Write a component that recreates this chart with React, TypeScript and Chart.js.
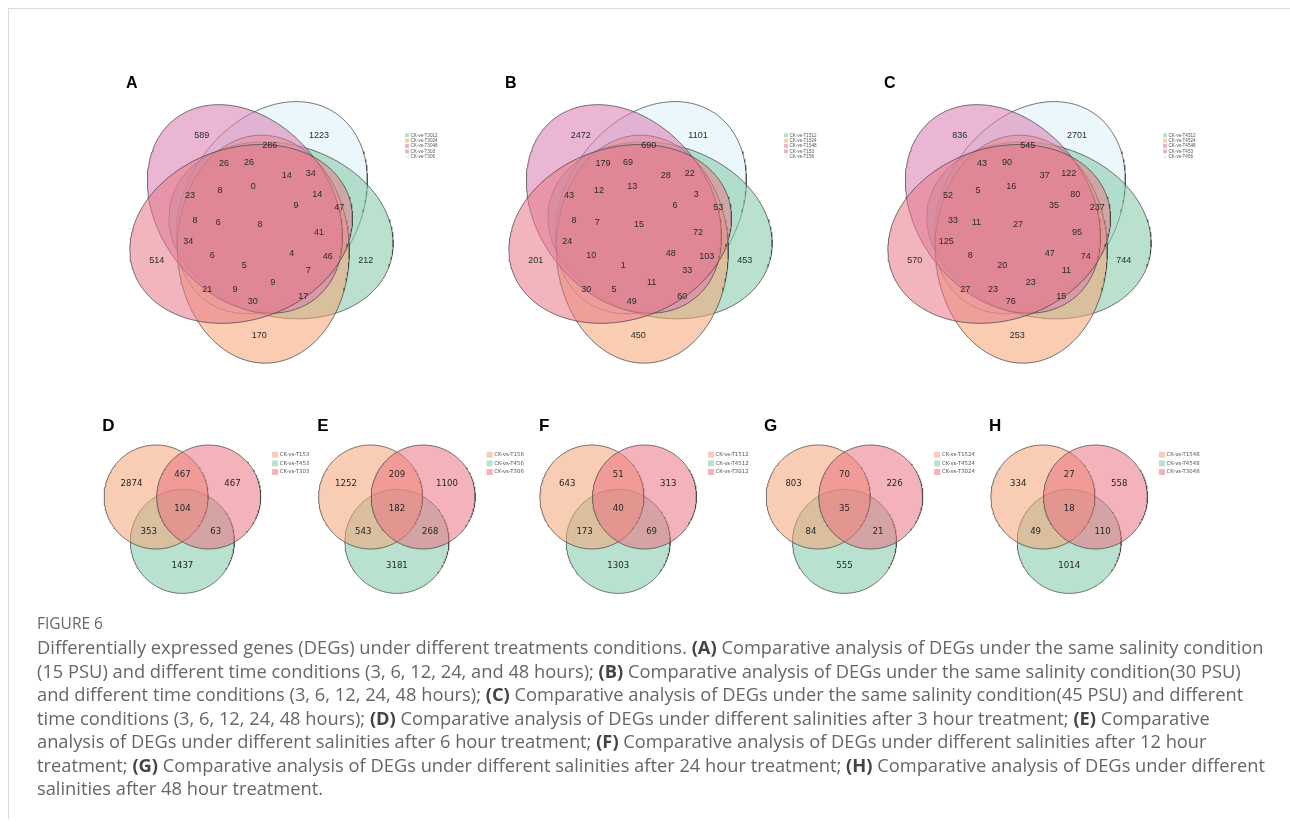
import React, { useEffect, useRef } from 'react';
import { Chart, registerables } from 'chart.js';

Chart.register(...registerables);

const W = 1290;
const H = 827;

// ---- five-set panels (A–C) ----
const SETS_A = ['CK-vs-T3012', 'CK-vs-T3024', 'CK-vs-T3048', 'CK-vs-T303', 'CK-vs-T306'];
const SETS_B = ['CK-vs-T1512', 'CK-vs-T1524', 'CK-vs-T1548', 'CK-vs-T153', 'CK-vs-T156'];
const SETS_C = ['CK-vs-T4512', 'CK-vs-T4524', 'CK-vs-T4548', 'CK-vs-T453', 'CK-vs-T456'];

const COUNTS_A = [589, 1223, 286, 26, 26, 34, 14, 23, 8, 0, 14, 9, 47, 8, 6, 8, 41, 34, 6, 514, 5, 4, 46, 212, 7, 21, 9, 9, 17, 30, 170];
const COUNTS_B = [2472, 1101, 690, 179, 69, 22, 28, 43, 12, 13, 3, 6, 53, 8, 7, 15, 72, 24, 10, 201, 1, 48, 103, 453, 33, 30, 5, 11, 60, 49, 450];
const COUNTS_C = [836, 2701, 545, 43, 90, 122, 37, 52, 5, 16, 80, 35, 237, 33, 11, 27, 95, 125, 8, 570, 20, 47, 74, 744, 11, 27, 23, 23, 15, 76, 253];

// ---- three-set panels (D–H) ----
const SETS_D = ['CK-vs-T153', 'CK-vs-T453', 'CK-vs-T303'];
const SETS_E = ['CK-vs-T156', 'CK-vs-T456', 'CK-vs-T306'];
const SETS_F = ['CK-vs-T1512', 'CK-vs-T4512', 'CK-vs-T3012'];
const SETS_G = ['CK-vs-T1524', 'CK-vs-T4524', 'CK-vs-T3024'];
const SETS_H = ['CK-vs-T1548', 'CK-vs-T4548', 'CK-vs-T3048'];

// region order: first only, first∩third, third only, all three, first∩second, second∩third, second only
const COUNTS_D = [2874, 467, 467, 104, 353, 63, 1437];
const COUNTS_E = [1252, 209, 1100, 182, 543, 268, 3181];
const COUNTS_F = [643, 51, 313, 40, 173, 69, 1303];
const COUNTS_G = [803, 70, 226, 35, 84, 21, 555];
const COUNTS_H = [334, 27, 558, 18, 49, 110, 1014];

// ---- styling / geometry ----
const QUINT_FILLS = ['rgba(128,200,166,0.55)', 'rgba(246,164,115,0.55)', 'rgba(231,120,135,0.55)', 'rgba(217,122,177,0.55)', 'rgba(219,240,248,0.55)'];
const QUINT_SWATCH = ['#b9e0ce', '#f9cbb0', '#f2b6be', '#eab6d4', '#eaf7fb'];
// unit-square ellipse layout for the five-set diagram (centre x, centre y, rotation in degrees)
const QUINT_SHAPES = [
  [0.558, 0.523, 10],
  [0.469, 0.543, 82],
  [0.428, 0.449, 155],
  [0.489, 0.383, 46],
  [0.578, 0.432, 118],
];
const QUINT_BASE_MAJOR = 0.435;
const QUINT_ORIGIN = [0.5044, 0.466];
const QUINT_SCALE = 270;
// each petal keeps its outer end; the ellipse is shorter, fuller and turned slightly about that end
const QUINT_MAJOR_PX = 114;
const QUINT_MINOR_PX = 86;
const QUINT_TURN_DEG = 6;
const QUINT_DRAW_ORDER = [4, 0, 1, 3, 2];

const TRIO_FILLS = ['rgba(244,164,119,0.55)', 'rgba(128,200,168,0.55)', 'rgba(235,114,131,0.55)'];
const TRIO_SWATCH = ['#f9cdb4', '#b9e1cf', '#f4b2bb'];
const TRIO_CENTRES = [[-26.3, -14.8], [0, 29.6], [26.3, -14.8]];
const TRIO_RADIUS = 52;
const TRIO_DRAW_ORDER = [1, 0, 2];

const QUINT_LABEL_POS = [
  [-58.8, -90], [58.5, -90], [9.2, -80], [-36.5, -62.7], [-11.5, -63.3], [50.2, -52.7], [26.2, -50],
  [-70.5, -30.3], [-40.5, -35], [-7.2, -39.3], [56.8, -31.7], [35.5, -20.3], [78.8, -18.3],
  [-65.5, -5], [-42.2, -3.3], [-0.5, -1], [58.5, 6.3], [-72.2, 15.7], [-48.2, 29.7],
  [-103.8, 34.7], [-16.2, 39.7], [31.2, 27.3], [67.2, 30.7], [105.2, 34.7], [47.8, 45],
  [-53.2, 63.3], [-25.5, 63.3], [12.2, 56.7], [42.8, 70.7], [-7.8, 75.7], [-1.2, 110],
];
const TRIO_LABEL_POS = [[-50.9, -27.8], [0, -36.8], [50.1, -27.8], [0, -2.8], [-33.6, 20.2], [33.4, 20.2], [0, 54]];

const QUINT_PANELS = [
  { letter: 'A', cx: 260.5, cy: 226, sets: SETS_A, counts: COUNTS_A },
  { letter: 'B', cx: 639.5, cy: 226, sets: SETS_B, counts: COUNTS_B },
  { letter: 'C', cx: 1018.5, cy: 226, sets: SETS_C, counts: COUNTS_C },
];
const TRIO_PANELS = [
  { letter: 'D', cx: 182.4, cy: 511.8, sets: SETS_D, counts: COUNTS_D },
  { letter: 'E', cx: 396.9, cy: 511.8, sets: SETS_E, counts: COUNTS_E },
  { letter: 'F', cx: 618.2, cy: 511.8, sets: SETS_F, counts: COUNTS_F },
  { letter: 'G', cx: 844.5, cy: 511.8, sets: SETS_G, counts: COUNTS_G },
  { letter: 'H', cx: 1069.2, cy: 511.8, sets: SETS_H, counts: COUNTS_H },
];

const CAPTION_LINES: Array<Array<[string, boolean]>> = [
  [['Differentially expressed genes (DEGs) under different treatments conditions. ', false], ['(A)', true], [' Comparative analysis of DEGs under the same salinity condition', false]],
  [['(15 PSU) and different time conditions (3, 6, 12, 24, and 48 hours); ', false], ['(B)', true], [' Comparative analysis of DEGs under the same salinity condition(30 PSU)', false]],
  [['and different time conditions (3, 6, 12, 24, 48 hours); ', false], ['(C)', true], [' Comparative analysis of DEGs under the same salinity condition(45 PSU) and different', false]],
  [['time conditions (3, 6, 12, 24, 48 hours); ', false], ['(D)', true], [' Comparative analysis of DEGs under different salinities after 3 hour treatment; ', false], ['(E)', true], [' Comparative', false]],
  [['analysis of DEGs under different salinities after 6 hour treatment; ', false], ['(F)', true], [' Comparative analysis of DEGs under different salinities after 12 hour', false]],
  [['treatment; ', false], ['(G)', true], [' Comparative analysis of DEGs under different salinities after 24 hour treatment; ', false], ['(H)', true], [' Comparative analysis of DEGs under different', false]],
  [['salinities after 48 hour treatment.', false]],
];

// Outline of an ellipse in pixel space: centre (cx, cy), semi-axes a (along unit vector d) and b.
function ellipseOutline(cx: number, cy: number, a: number, b: number, dx: number, dy: number) {
  const pts: { x: number; y: number }[] = [];
  const n = 220;
  for (let i = 0; i <= n; i++) {
    const t = (i / n) * Math.PI * 2;
    const u = a * Math.cos(t);
    const v = b * Math.sin(t);
    pts.push({ x: cx + u * dx - v * dy, y: cy + u * dy + v * dx });
  }
  return pts;
}

function quintEllipse(p: { cx: number; cy: number }, k: number) {
  const [ux, uy, rot] = QUINT_SHAPES[k];
  const r = (rot * Math.PI) / 180;
  const cx = p.cx + (ux - QUINT_ORIGIN[0]) * QUINT_SCALE;
  const cy = p.cy + (uy - QUINT_ORIGIN[1]) * QUINT_SCALE;
  const a0 = QUINT_BASE_MAJOR * QUINT_SCALE;
  const e1 = [cx + a0 * Math.cos(r), cy + a0 * Math.sin(r)];
  const e2 = [cx - a0 * Math.cos(r), cy - a0 * Math.sin(r)];
  const s = Math.hypot(e1[0] - p.cx, e1[1] - p.cy) > Math.hypot(e2[0] - p.cx, e2[1] - p.cy) ? 1 : -1;
  const outer = s > 0 ? e1 : e2;
  const r2 = r + (QUINT_TURN_DEG * Math.PI) / 180;
  const dx = Math.cos(r2);
  const dy = Math.sin(r2);
  return ellipseOutline(outer[0] - s * QUINT_MAJOR_PX * dx, outer[1] - s * QUINT_MAJOR_PX * dy, QUINT_MAJOR_PX, QUINT_MINOR_PX, dx, dy);
}

function buildDatasets() {
  const shapes: any[] = [];
  QUINT_PANELS.forEach((p) => {
    QUINT_DRAW_ORDER.forEach((k) => {
      shapes.push({ label: p.sets[k], data: quintEllipse(p, k), backgroundColor: QUINT_FILLS[k] });
    });
  });
  TRIO_PANELS.forEach((p) => {
    TRIO_DRAW_ORDER.forEach((k) => {
      const [ox, oy] = TRIO_CENTRES[k];
      shapes.push({
        label: p.sets[k],
        data: ellipseOutline(p.cx + ox, p.cy + oy, TRIO_RADIUS, TRIO_RADIUS, 1, 0),
        backgroundColor: TRIO_FILLS[k],
      });
    });
  });
  return shapes.map((s, i) => ({
    ...s,
    showLine: true,
    fill: 'shape',
    borderColor: 'rgba(70,70,70,0.75)',
    borderWidth: 1,
    pointRadius: 0,
    pointHoverRadius: 0,
    tension: 0,
    order: -i,
  }));
}

const vennText = {
  id: 'vennText',
  afterDatasetsDraw(chart: any) {
    const { ctx } = chart;
    const sx = chart.scales.x;
    const sy = chart.scales.y;
    const px = (v: number) => sx.getPixelForValue(v);
    const py = (v: number) => sy.getPixelForValue(v);
    ctx.save();
    ctx.textAlign = 'center';
    ctx.textBaseline = 'middle';

    QUINT_PANELS.forEach((p) => {
      ctx.fillStyle = '#2b2b2b';
      ctx.font = '9px "Liberation Sans", Arial, sans-serif';
      p.counts.forEach((c, i) => {
        const [ox, oy] = QUINT_LABEL_POS[i];
        ctx.fillText(String(c), px(p.cx + ox), py(p.cy + oy));
      });
      ctx.fillStyle = '#000';
      ctx.font = 'bold 16px "Liberation Sans", Arial, sans-serif';
      ctx.fillText(p.letter, px(p.cx - 128.8), py(p.cy - 142.7));
      ctx.textAlign = 'left';
      ctx.font = '4.6px "Liberation Sans", Arial, sans-serif';
      p.sets.forEach((s, i) => {
        const lx = px(p.cx + 144.5);
        const ly = py(p.cy - 90.7 + i * 5.35);
        ctx.fillStyle = QUINT_SWATCH[i];
        ctx.fillRect(lx, ly - 2, 4, 4);
        ctx.fillStyle = '#555';
        ctx.fillText(s, lx + 5.5, ly);
      });
      ctx.textAlign = 'center';
    });

    TRIO_PANELS.forEach((p) => {
      ctx.fillStyle = '#262626';
      ctx.font = '8.6px "DejaVu Sans", sans-serif';
      p.counts.forEach((c, i) => {
        const [ox, oy] = TRIO_LABEL_POS[i];
        ctx.fillText(String(c), px(p.cx + ox), py(p.cy + oy));
      });
      ctx.fillStyle = '#000';
      ctx.font = 'bold 17px "Liberation Sans", Arial, sans-serif';
      ctx.fillText(p.letter, px(p.cx - 74), py(426.7));
      ctx.textAlign = 'left';
      ctx.font = '5.4px "DejaVu Sans", sans-serif';
      p.sets.forEach((s, i) => {
        const lx = px(p.cx + 89.7);
        const ly = py(454.7 + i * 8.65);
        ctx.fillStyle = TRIO_SWATCH[i];
        ctx.fillRect(lx, ly - 3, 6, 6);
        ctx.fillStyle = '#555';
        ctx.fillText(s, lx + 7.7, ly);
      });
      ctx.textAlign = 'center';
    });
    ctx.restore();
  },
};

export default function App() {
  const ref = useRef<HTMLCanvasElement | null>(null);

  useEffect(() => {
    if (!ref.current) return;
    const chart = new Chart(ref.current, {
      type: 'scatter',
      data: { datasets: buildDatasets() },
      options: {
        animation: false,
        responsive: false,
        devicePixelRatio: 1,
        layout: { padding: 0 },
        events: [],
        scales: {
          x: { type: 'linear', min: 0, max: W, display: false },
          y: { type: 'linear', min: 0, max: H, reverse: true, display: false },
        },
        plugins: {
          legend: { display: false },
          tooltip: { enabled: false },
          title: { display: false },
        },
      },
      plugins: [vennText],
    });
    return () => chart.destroy();
  }, []);

  return (
    <div style={{ position: 'absolute', left: 0, top: 0, width: W, height: H, background: '#fff', overflow: 'hidden' }}>
      <canvas ref={ref} width={W} height={H} style={{ position: 'absolute', left: 0, top: 0, width: W, height: H }} />
      <div style={{ position: 'absolute', left: 8, top: 8, width: W - 8, height: 1, background: '#dcdcdc' }} />
      <div style={{ position: 'absolute', left: 8, top: 8, width: 1, height: H - 16, background: '#dcdcdc' }} />
      <div
        style={{
          position: 'absolute',
          left: 37,
          top: 612,
          fontFamily: '"Open Sans", sans-serif',
          fontSize: 15.5,
          color: '#666',
        }}
      >
        FIGURE 6
      </div>
      {CAPTION_LINES.map((line, i) => (
        <div
          key={i}
          style={{
            position: 'absolute',
            left: 37,
            top: 635 + i * 23.5,
            whiteSpace: 'nowrap',
            fontFamily: '"Open Sans", sans-serif',
            fontSize: 18.3,
            lineHeight: '23px',
            color: '#666',
          }}
        >
          {line.map(([t, b], j) => (
            <span key={j} style={{ fontWeight: b ? 700 : 400, color: b ? '#444' : '#666' }}>
              {t}
            </span>
          ))}
        </div>
      ))}
    </div>
  );
}
